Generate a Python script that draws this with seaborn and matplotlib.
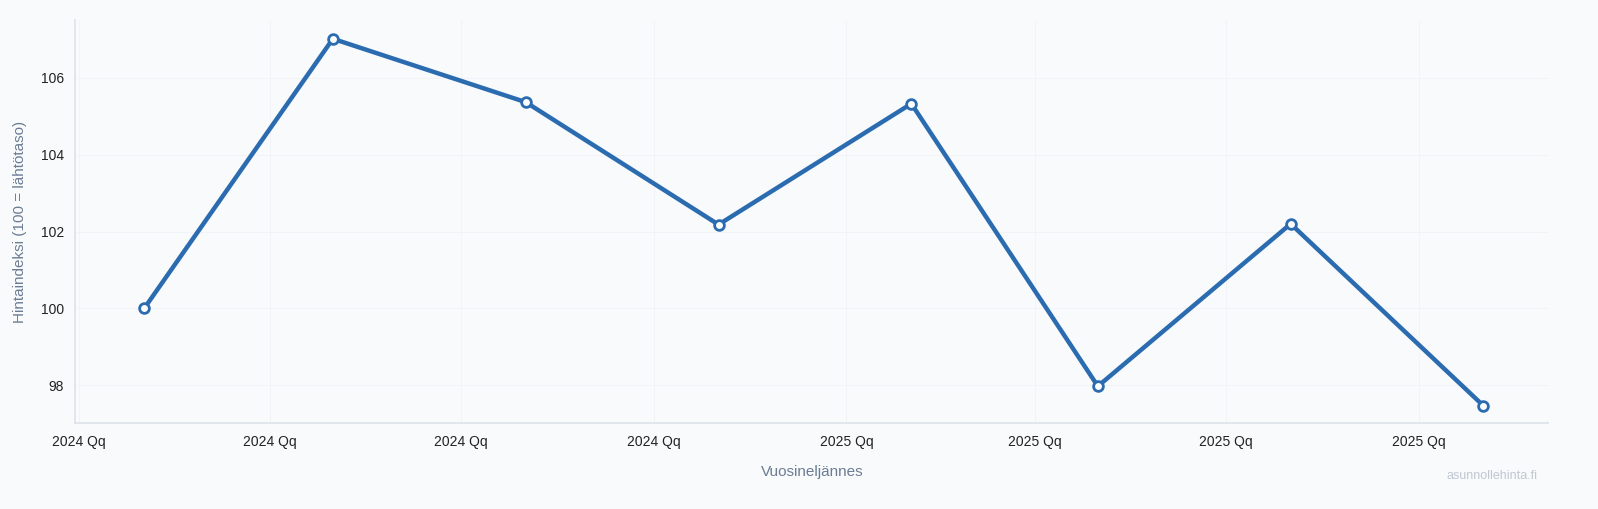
import matplotlib
matplotlib.use("Agg")
import matplotlib.pyplot as plt
import seaborn as sns
import pandas as pd

quarter_dates = ["2024-02-01", "2024-05-01", "2024-08-01", "2024-11-01",
                 "2025-02-01", "2025-05-01", "2025-08-01", "2025-11-01"]
index_values = [100.0, 107.02, 105.37, 102.18, 105.33, 97.97, 102.2, 97.46]
tick_dates = ["2024-01-01", "2024-04-01", "2024-07-01", "2024-10-01",
              "2025-01-01", "2025-04-01", "2025-07-01", "2025-10-01"]
tick_labels = ["2024 Qq"] * 4 + ["2025 Qq"] * 4

df = pd.DataFrame({"date": pd.to_datetime(quarter_dates), "value": index_values})

sns.set_theme(style="white")
plt.rcParams['font.family'] = ['Liberation Sans', 'DejaVu Sans']
bg = "#f8fafc"
fig, ax = plt.subplots(figsize=(15.98, 5.09), dpi=100)
fig.patch.set_facecolor(bg)
ax.set_facecolor(bg)
fig.subplots_adjust(left=0.047, right=0.969, top=0.96, bottom=0.168)

sns.lineplot(data=df, x="date", y="value", ax=ax, color="#2b6cb0", linewidth=3.2,
             marker="o", markersize=7, markerfacecolor="white",
             markeredgecolor="#2b6cb0", markeredgewidth=2)

ax.set_xlim(pd.Timestamp("2023-12-30"), pd.Timestamp("2025-12-02"))
ax.set_ylim(97.0, 107.5)
ax.set_xticks(pd.to_datetime(tick_dates))
ax.set_xticklabels(tick_labels)
ax.set_yticks([98, 100, 102, 104, 106])
ax.tick_params(labelsize=10, colors="#222222", length=0, pad=8)
ax.grid(True, color="#f1f3f6", linewidth=0.7)
for s in ["top", "right"]:
    ax.spines[s].set_visible(False)
for s in ["left", "bottom"]:
    ax.spines[s].set_color("#dde3ea")
ax.set_xlabel("Vuosineljännes", fontsize=11, color="#6b7c93", labelpad=12)
ax.set_ylabel("Hintaindeksi (100 = lähtötaso)", fontsize=11, color="#6b7c93", labelpad=10)
fig.text(0.962, 0.065, "asunnollehinta.fi", ha="right", va="center", fontsize=9, color="#c0c8d2")
fig.savefig("out.png", dpi=100, facecolor=bg)
